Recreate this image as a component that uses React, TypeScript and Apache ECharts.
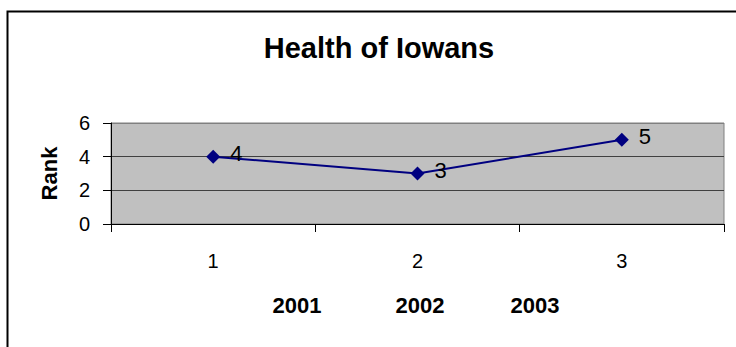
import React, { useEffect, useRef } from "react";
import * as echarts from "echarts";

const categories = ["1", "2", "3"];
const rankValues = [4, 3, 5];
const yearLabels = ["2001", "2002", "2003"];
const yearXs = [297, 420, 535];

const FONT = "Arial, 'Liberation Sans', sans-serif";

export default function App() {
  const ref = useRef<HTMLDivElement>(null);

  useEffect(() => {
    document.body.style.margin = "0";
    const chart = echarts.init(ref.current!, null, { renderer: "svg" });
    chart.setOption({
      animation: false,
      backgroundColor: "#ffffff",
      title: {
        text: "Health of Iowans",
        left: 374,
        top: 28,
        textAlign: "center",
        textStyle: { fontFamily: FONT, fontSize: 29, fontWeight: "bold", color: "#000" },
      },
      grid: {
        left: 111,
        top: 123,
        right: 12,
        bottom: 123,
        show: true,
        backgroundColor: "#c0c0c0",
        borderColor: "#808080",
        borderWidth: 1,
      },
      xAxis: {
        type: "category",
        data: categories,
        boundaryGap: true,
        axisLine: { show: true, lineStyle: { color: "#000", width: 1 } },
        axisTick: { show: true, length: 8, alignWithLabel: false, lineStyle: { color: "#000" } },
        axisLabel: { margin: 27, fontFamily: FONT, fontSize: 20, color: "#000" },
        splitLine: { show: false },
      },
      yAxis: {
        type: "value",
        min: 0,
        max: 6,
        interval: 2,
        name: "Rank",
        nameLocation: "middle",
        nameRotate: 90,
        nameGap: 51,
        nameTextStyle: { fontFamily: FONT, fontSize: 22, fontWeight: "bold", color: "#000" },
        axisLine: { show: true, lineStyle: { color: "#000", width: 1 } },
        axisTick: { show: true, length: 8, lineStyle: { color: "#000" } },
        axisLabel: { margin: 21, fontFamily: FONT, fontSize: 20, color: "#000" },
        splitLine: {
          show: true,
          lineStyle: { color: ["#000000", "#404040", "#404040", "#808080"], width: 1 },
        },
      },
      series: [
        {
          type: "line",
          data: rankValues,
          symbol: "diamond",
          symbolSize: 14,
          lineStyle: { color: "#000080", width: 2 },
          itemStyle: { color: "#000080" },
          label: {
            show: true,
            position: "right",
            distance: 10,
            offset: [0, -3],
            fontFamily: FONT,
            fontSize: 22,
            color: "#000",
          },
        },
      ],
      graphic: [
        {
          type: "rect",
          shape: { x: 7.5, y: 11.5, width: 800, height: 400 },
          style: { fill: "none", stroke: "#000", lineWidth: 2 },
          silent: true,
        },
        ...yearLabels.map((label, i) => ({
          type: "text",
          x: yearXs[i],
          y: 305,
          style: {
            text: label,
            fontFamily: FONT,
            fontSize: 22,
            fontWeight: "bold",
            fill: "#000",
            align: "center",
            verticalAlign: "middle",
          },
        })),
      ],
    });
    return () => chart.dispose();
  }, []);

  return (
    <div
      ref={ref}
      style={{ position: "absolute", left: 0, top: 0, width: 736, height: 347 }}
    />
  );
}
